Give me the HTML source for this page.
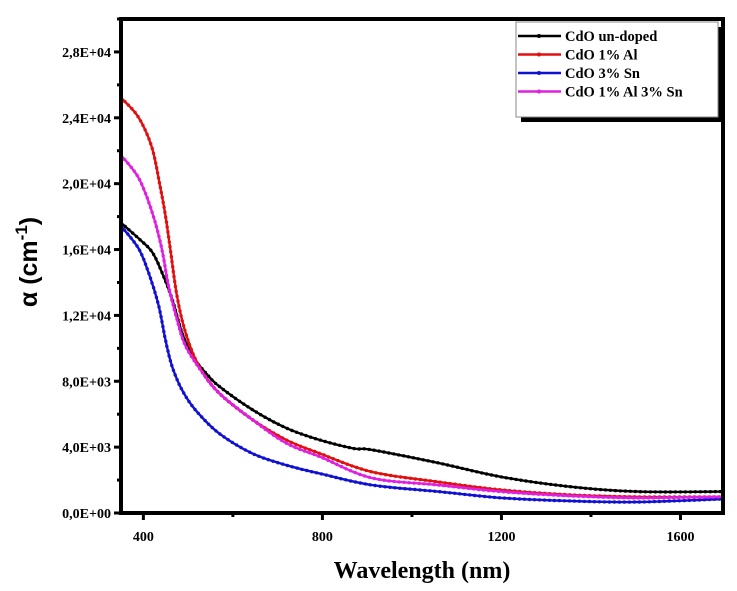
<!DOCTYPE html>
<html><head><meta charset="utf-8"><style>
html,body{margin:0;padding:0;background:#fff;}
svg{display:block;}
text{font-family:"Liberation Serif",serif;font-weight:bold;}
</style></head><body>
<svg id="chart" width="737" height="591" viewBox="0 0 737 591" xmlns="http://www.w3.org/2000/svg"></svg>
<script>
const xTicks=[400,800,1200,1600];
const yTicks=[0,4000,8000,12000,16000,20000,24000,28000];
const yTickLabels=["0,0E+00","4,0E+03","8,0E+03","1,2E+04","1,6E+04","2,0E+04","2,4E+04","2,8E+04"];
const seriesNames=["CdO un-doped","CdO 1% Al","CdO 3% Sn","CdO 1% Al 3% Sn"];
const seriesColors=["#000000","#e01010","#1010d0","#e020e0"];
const blackX=[351,389,419,441,464,486,509,539,569,644,720,795,870,910,1059,1200,1356,1506,1695];
const blackY=[17600,16680,15870,14640,13010,10970,9540,8520,7700,6270,5150,4430,3920,3840,3040,2190,1590,1300,1300];
const redX=[351,389,419,438,449,460,475,494,524,569,644,720,795,910,1059,1200,1356,1506,1695];
const redY=[25200,24030,22200,19750,18110,16070,13210,10970,8920,7290,5660,4430,3610,2500,1890,1400,1100,980,980];
const blueX=[351,389,411,434,449,464,486,516,569,644,720,795,910,1059,1200,1356,1506,1695];
const blueY=[17400,16070,14640,12600,10560,8920,7490,6270,4840,3610,2900,2390,1700,1300,920,730,670,850];
const magX=[351,389,419,441,456,475,494,532,569,644,720,795,910,1059,1200,1356,1506,1695];
const magY=[21690,20360,18310,16070,13820,11780,10150,8520,7290,5660,4230,3410,2130,1700,1300,1040,920,980];

const NS="http://www.w3.org/2000/svg";
const svg=document.getElementById('chart');
const L=121,R=723,T=19,B=513,xMin=350,xMax=1695,yMax=30000;
const sx=v=>L+(v-xMin)/(xMax-xMin)*(R-L);
const sy=v=>B-v/yMax*(B-T);
function mk(tag,attrs,parent){const e=document.createElementNS(NS,tag);for(const k in attrs)e.setAttribute(k,attrs[k]);(parent||svg).appendChild(e);return e;}
function smooth(pts){
  let d='M'+pts[0][0].toFixed(1)+','+pts[0][1].toFixed(1);
  for(let i=0;i<pts.length-1;i++){
    const p0=pts[i-1]||pts[i],p1=pts[i],p2=pts[i+1],p3=pts[i+2]||p2;
    const c1=[p1[0]+(p2[0]-p0[0])/6,p1[1]+(p2[1]-p0[1])/6];
    const c2=[p2[0]-(p3[0]-p1[0])/6,p2[1]-(p3[1]-p1[1])/6];
    d+=' C'+c1.map(v=>v.toFixed(1)).join(',')+' '+c2.map(v=>v.toFixed(1)).join(',')+' '+p2.map(v=>v.toFixed(1)).join(',');
  }
  return d;
}

const plot=mk('g',{});


const series=[[blackX,blackY],[redX,redY],[blueX,blueY],[magX,magY]];
const clip=mk('clipPath',{id:'cp'});mk('rect',{x:L,y:T,width:R-L,height:B-T},clip);
series.forEach((s,i)=>{
  const g=mk('g',{'clip-path':'url(#cp)'},plot);
  
  
  const pts=s[0].map((x,j)=>[sx(x),sy(s[1][j])]);
  const p=mk('path',{d:smooth(pts),fill:'none',stroke:seriesColors[i],'stroke-width':2.4,'stroke-linejoin':'round'},g);
  const len=p.getTotalLength();
  for(let l=0;l<=len;l+=5){
    const q=p.getPointAtLength(l);
    const c=mk('circle',{cx:q.x.toFixed(1),cy:q.y.toFixed(1),r:1.7,fill:seriesColors[i]},g);
    
    
  }
});

const frame=mk('rect',{x:L,y:T,width:R-L,height:B-T,fill:'none',stroke:'#000','stroke-width':4});



yTicks.forEach((v,i)=>{
  mk('line',{x1:L-7,x2:L,y1:sy(v),y2:sy(v),stroke:'#000','stroke-width':3});
  mk('line',{x1:L-4,x2:L,y1:sy(v+2000),y2:sy(v+2000),stroke:'#000','stroke-width':3});
  const t=mk('text',{x:L-10,y:sy(v)+5,'text-anchor':'end','font-size':14});
  t.textContent=yTickLabels[i];
  
  
});
xTicks.forEach(v=>{
  mk('line',{x1:sx(v),x2:sx(v),y1:B,y2:B+7,stroke:'#000','stroke-width':3});
  if(v+200<xMax) mk('line',{x1:sx(v+200),x2:sx(v+200),y1:B,y2:B+4,stroke:'#000','stroke-width':3});
  const t=mk('text',{x:sx(v),y:B+28,'text-anchor':'middle','font-size':14});
  t.textContent=v;
  
  
});

const xt=mk('text',{x:422,y:578,'text-anchor':'middle','font-size':24});
xt.textContent='Wavelength (nm)';


const yt=mk('text',{x:0,y:0,'text-anchor':'middle','font-size':25,transform:'translate(37,262) rotate(-90)',style:'font-family:"Liberation Sans",sans-serif'});
yt.innerHTML='α (cm<tspan dy="-10" font-size="17">-1</tspan><tspan dy="10">)</tspan>';



const lg=mk('g',{});


mk('rect',{x:521,y:27,width:202,height:95,fill:'#000'},lg);
mk('rect',{x:516,y:22,width:202,height:95,fill:'#fff',stroke:'#888','stroke-width':1},lg);
seriesNames.forEach((n,i)=>{
  const y=36+i*18.5;
  const e=mk('g',{},lg);
  
  
  mk('line',{x1:518,x2:561,y1:y,y2:y,stroke:seriesColors[i],'stroke-width':2.6},e);
  mk('circle',{cx:539,cy:y,r:2,fill:seriesColors[i]},e);
  const t=mk('text',{x:565,y:y+5,'font-size':14.5},e);
  t.textContent=n;
});
</script>
</body></html>
